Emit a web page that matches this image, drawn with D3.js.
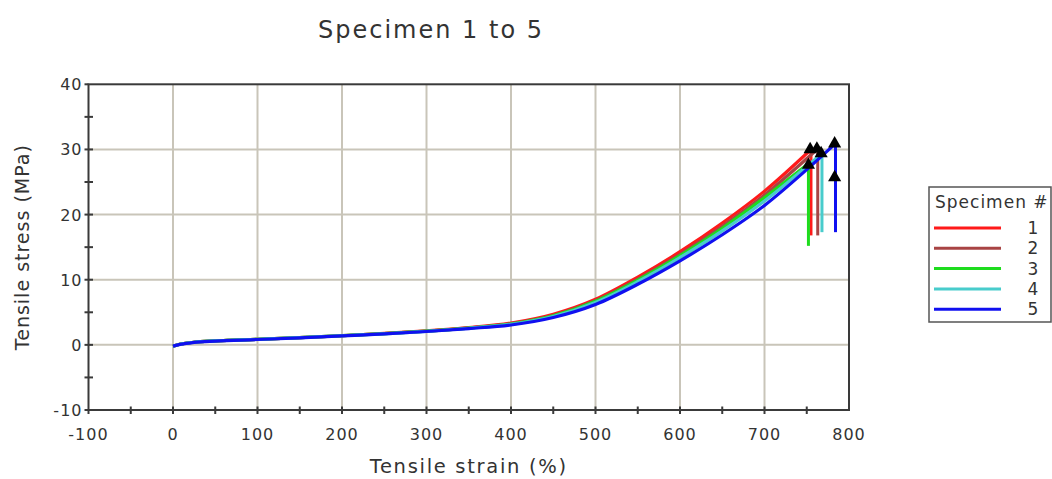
<!DOCTYPE html>
<html>
<head>
<meta charset="utf-8">
<script src="https://cdn.jsdelivr.net/npm/d3@7"></script>
<style>
  body { margin: 0; background: #fff; }
  text { font-family: "DejaVu Sans", Verdana, sans-serif; fill: #333; }
</style>
</head>
<body>
<svg id="chart" width="1052" height="479"></svg>
<script>
// tensile test curves, specimens 1 to 5

const specimens = ["1", "2", "3", "4", "5"];
const colors = ["#ff1a1a", "#a84444", "#1edc1e", "#48cccc", "#1010f0"];

// [strain %, stress MPa] up to the break
const curve1 = [[0,-0.2],[10,0.15],[25,0.4],[50,0.6],[100,0.85],[150,1.1],[200,1.4],[250,1.75],[300,2.15],[350,2.65],[400,3.35],[450,4.7],[500,7.0],[550,10.4],[600,14.3],[650,18.7],[700,23.6],[755,30.0]];
const curve2 = [[0,-0.2],[10,0.15],[25,0.4],[50,0.6],[100,0.85],[150,1.1],[200,1.4],[250,1.72],[300,2.1],[350,2.6],[400,3.25],[450,4.5],[500,6.8],[550,10.1],[600,13.9],[650,18.2],[700,23.0],[763,30.1]];
const curve3 = [[0,-0.2],[10,0.15],[25,0.4],[50,0.6],[100,0.85],[150,1.1],[200,1.4],[250,1.72],[300,2.1],[350,2.58],[400,3.2],[450,4.45],[500,6.7],[550,9.95],[600,13.7],[650,17.9],[700,22.6],[752,27.8]];
const curve4 = [[0,-0.2],[10,0.15],[25,0.4],[50,0.6],[100,0.85],[150,1.1],[200,1.4],[250,1.7],[300,2.08],[350,2.55],[400,3.15],[450,4.35],[500,6.5],[550,9.7],[600,13.4],[650,17.5],[700,22.1],[768,29.4]];
const curve5 = [[0,-0.2],[10,0.12],[25,0.38],[50,0.58],[100,0.82],[150,1.08],[200,1.38],[250,1.68],[300,2.05],[350,2.5],[400,3.05],[450,4.2],[500,6.2],[550,9.3],[600,12.9],[650,16.9],[700,21.4],[750,26.9],[784,30.9]];
const curves = [curve1, curve2, curve3, curve4, curve5];

// stress the line drops to after the break
const dropTo = [16.8, 16.8, 15.2, 17.3, 17.3];

// triangle markers [strain, stress]
const markers = [[754,30.0],[762,30.1],[752,27.6],[767,29.4],[783,30.9],[783,25.7]];

const xTicks = [-100, 0, 100, 200, 300, 400, 500, 600, 700, 800];
const yTicks = [-10, 0, 10, 20, 30, 40];

const svg = d3.select("#chart");
const pLeft = 88.5, pRight = 849, pTop = 84.3, pBottom = 410;

const x = d3.scaleLinear().domain([-100, 800]).range([pLeft, pRight]);
const y = d3.scaleLinear().domain([-10, 40]).range([pBottom, pTop]);

// grid
svg.append("g").selectAll("line").data(xTicks.slice(1, -1)).join("line")
  .attr("x1", d => x(d)).attr("x2", d => x(d))
  .attr("y1", pTop).attr("y2", pBottom)
  .attr("stroke", "#c9c5b9").attr("stroke-width", 2);
svg.append("g").selectAll("line").data(yTicks.slice(1, -1)).join("line")
  .attr("y1", d => y(d)).attr("y2", d => y(d))
  .attr("x1", pLeft).attr("x2", pRight)
  .attr("stroke", "#c9c5b9").attr("stroke-width", 2);

// frame
svg.append("rect")
  .attr("x", pLeft).attr("y", pTop)
  .attr("width", pRight - pLeft).attr("height", pBottom - pTop)
  .attr("fill", "none").attr("stroke", "#3a3a3a").attr("stroke-width", 2);

// ticks (major + minor), crossing the axis lines
const xAll = d3.range(-100, 801, 50);
const yAll = d3.range(-10, 41, 5);
svg.append("g").selectAll("line").data(xAll.slice(1, -1)).join("line")
  .attr("x1", d => x(d)).attr("x2", d => x(d))
  .attr("y1", pBottom - 3.5).attr("y2", pBottom + 4)
  .attr("stroke", "#3a3a3a").attr("stroke-width", 2);
svg.append("g").selectAll("line").data(yAll.slice(1, -1)).join("line")
  .attr("y1", d => y(d)).attr("y2", d => y(d))
  .attr("x1", pLeft - 4).attr("x2", pLeft + 4.5)
  .attr("stroke", "#3a3a3a").attr("stroke-width", 2);
// ticks at the corners stick outside only
svg.append("line").attr("x1", x(-100)).attr("x2", x(-100)).attr("y1", pBottom).attr("y2", pBottom + 4)
  .attr("stroke", "#3a3a3a").attr("stroke-width", 2);
svg.append("line").attr("x1", pLeft - 4).attr("x2", pLeft).attr("y1", y(40)).attr("y2", y(40))
  .attr("stroke", "#3a3a3a").attr("stroke-width", 2);
svg.append("line").attr("x1", pLeft - 4).attr("x2", pLeft).attr("y1", y(-10)).attr("y2", y(-10))
  .attr("stroke", "#3a3a3a").attr("stroke-width", 2);

// tick labels
svg.append("g").selectAll("text").data(xTicks).join("text")
  .attr("x", d => x(d)).attr("y", pBottom + 30)
  .attr("text-anchor", "middle")
  .attr("font-size", "16px").attr("letter-spacing", "1px")
  .text(d => d);
svg.append("g").selectAll("text").data(yTicks).join("text")
  .attr("x", pLeft - 6).attr("y", d => y(d) + 6)
  .attr("text-anchor", "end")
  .attr("font-size", "16px").attr("letter-spacing", "1px")
  .text(d => d);

// axis titles
svg.append("text")
  .attr("x", (pLeft + pRight) / 2).attr("y", 473)
  .attr("text-anchor", "middle").attr("font-size", "19.5px").attr("letter-spacing", "1.7px")
  .text("Tensile strain (%)");
svg.append("text")
  .attr("transform", "translate(29," + ((pTop + pBottom) / 2) + ") rotate(-90)")
  .attr("text-anchor", "middle").attr("font-size", "19px").attr("letter-spacing", "1px")
  .text("Tensile stress (MPa)");

// title
svg.append("text")
  .attr("x", 431).attr("y", 38)
  .attr("text-anchor", "middle").attr("font-size", "24px").attr("letter-spacing", "2px")
  .text("Specimen 1 to 5");

// curves
const line = d3.line().x(d => x(d[0])).y(d => y(d[1])).curve(d3.curveMonotoneX);
const straight = d3.line().x(d => x(d[0])).y(d => y(d[1]));
curves.forEach((c, i) => {
  const last = c[c.length - 1];
  svg.append("path").attr("d", straight([last, [last[0], dropTo[i]]]))
    .attr("fill", "none").attr("stroke", colors[i]).attr("stroke-width", 3);
});
curves.forEach((c, i) => {
  svg.append("path").attr("d", line(c))
    .attr("fill", "none").attr("stroke", colors[i]).attr("stroke-width", 3.2)
    .attr("stroke-linejoin", "round");
});

// markers
svg.append("g").selectAll("path").data(markers).join("path")
  .attr("transform", d => "translate(" + x(d[0]) + "," + y(d[1]) + ")")
  .attr("d", d3.symbol().type(d3.symbolTriangle).size(75))
  .attr("fill", "#000");

// legend
const lg = svg.append("g").attr("transform", "translate(929,187)");
lg.append("rect").attr("width", 122).attr("height", 135)
  .attr("fill", "#fff").attr("stroke", "#555").attr("stroke-width", 1.5);
lg.append("text").attr("x", 6).attr("y", 21).attr("font-size", "17px").attr("letter-spacing", "1px")
  .text("Specimen #");
specimens.forEach((s, i) => {
  const yy = 41 + i * 20.3;
  lg.append("line").attr("x1", 5).attr("x2", 72).attr("y1", yy).attr("y2", yy)
    .attr("stroke", colors[i]).attr("stroke-width", 3);
  lg.append("text").attr("x", 104).attr("y", yy + 6).attr("text-anchor", "middle")
    .attr("font-size", "17px").text(s);
});
</script>
</body>
</html>
